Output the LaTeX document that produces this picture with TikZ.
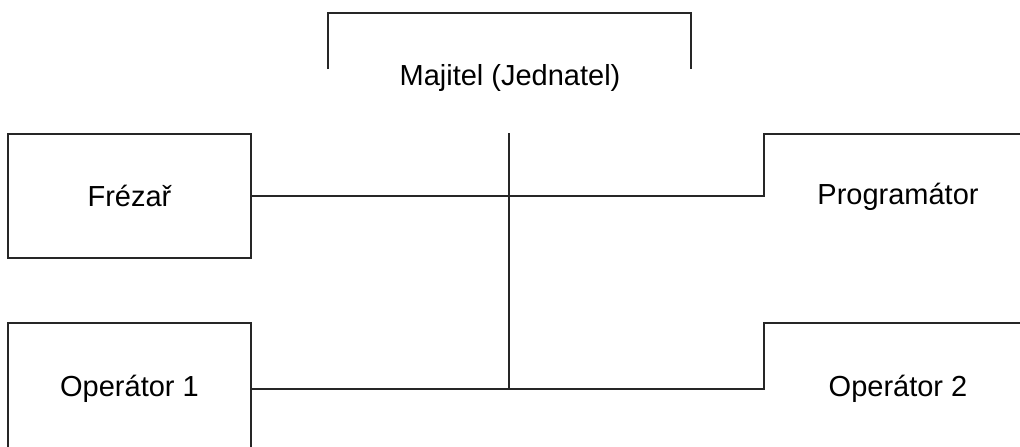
\documentclass[tikz,border=0pt]{standalone}
\usepackage{fontspec}
\setmainfont{Liberation Sans}
\usetikzlibrary{positioning}
\begin{document}
\begin{tikzpicture}[x=1pt, y=-1pt,
    role/.style={rectangle, draw=black!85, line width=1.1pt, inner sep=0pt,
        minimum width=243pt, font=\fontsize{29}{34}\selectfont},
    rolename/.style={inner sep=0pt, font=\fontsize{29}{34}\selectfont},
    link/.style={draw=black!85, line width=1.1pt}
]
\useasboundingbox (0,0) rectangle (1020,447);
\clip (0,0) rectangle (1020,447);

\node (Majitel) [rolename] at (510,78) {Majitel (Jednatel)};
\node (Frezar) [role, minimum height=124pt] at (129.5,196) {Frézař};
\node (Operator1) [role, minimum height=132pt] at (129.5,389) {Operátor 1};
\node (Programator) [rolename] at (898,197) {Programátor};
\node (Operator2) [rolename] at (898,389) {Operátor 2};

\coordinate (HubTop) at (509,133);
\coordinate (ProgEdge) at (764,134);
\coordinate (ProgEnd) at (1020,134);
\coordinate (OpEdge) at (764,323);
\coordinate (OpEnd) at (1020,323);

% frame of the owner
\draw[link] (328,69) |- (691,13) -- (691,69);

\draw[link] (Frezar.east) -| (ProgEdge) -- (ProgEnd);
\draw[link] (Operator1.east) -| (OpEdge) -- (OpEnd);
\draw[link] (HubTop) -- (HubTop |- Operator1.east);

\end{tikzpicture}
\end{document}
